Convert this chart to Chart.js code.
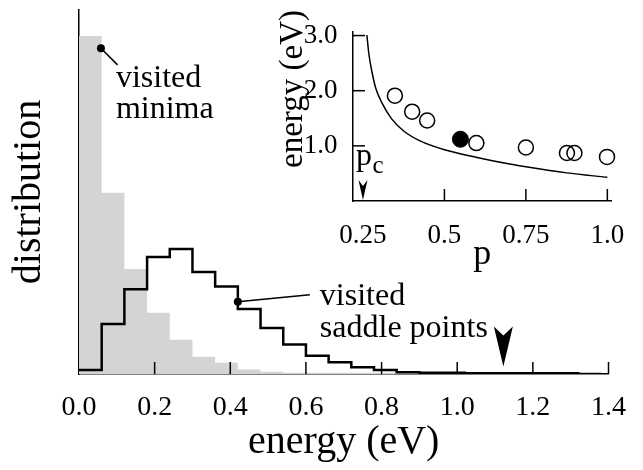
<!DOCTYPE html>
<html>
<head>
<meta charset="utf-8">
<script src="https://cdn.jsdelivr.net/npm/chart.js@4.4.0/dist/chart.umd.min.js"></script>
<style>
  html, body { margin: 0; padding: 0; background: #fff; }
  #wrap { position: relative; width: 643px; height: 470px; }
  #main { position: absolute; left: 0; top: 0; }
  #inset { position: absolute; left: 250px; top: 0; }
</style>
</head>
<body>
<div id="wrap">
  <canvas id="main" width="643" height="470"></canvas>
  <canvas id="inset" width="393" height="280"></canvas>
</div>
<script>
// histogram bins (left edges, eV), width 0.06
const binStart = [0.00, 0.06, 0.12, 0.18, 0.24, 0.30, 0.36, 0.42, 0.48, 0.54, 0.60, 0.66,
                  0.72, 0.78, 0.84, 0.90, 0.96, 1.02, 1.08, 1.14, 1.20, 1.26, 1.32];
const binWidth = 0.06;
const minimaHist = [100, 53.6, 31.1, 18.1, 10.1, 5.1, 3.3, 1.3, 0.7, 0.4, 0.4, 0.4,
                    0.4, 0.4, 0.3, 0.3, 0.3, 0.3, 0.3, 0.3, 0.3, 0.3, 0.3];
const saddleHist = [1.2, 14.8, 25.1, 34.6, 37.0, 30.2, 25.9, 19.2, 13.6, 8.7, 5.4, 3.5,
                    2.0, 1.2, 0.5, 0.35, 0.35, 0.25, 0.25, 0.2, 0.2, 0.2, 0];
const energyTicks = [0.2, 0.4, 0.6, 0.8, 1.0, 1.2, 1.4];

// inset: barrier energy vs p
const pOpen = [0.348, 0.401, 0.447, 0.598, 0.750, 0.876, 0.899, 0.999];
const eOpen = [1.91, 1.62, 1.46, 1.05, 0.97, 0.87, 0.87, 0.80];
const pFilled = [0.549];
const eFilled = [1.12];
const curveP = [0.262, 0.268, 0.278, 0.289, 0.309, 0.338, 0.377, 0.425, 0.50, 0.60, 0.70, 0.75, 0.875, 1.0];
const curveE = [3.01, 2.67, 2.33, 2.05, 1.77, 1.49, 1.26, 1.09, 0.93, 0.79, 0.67, 0.62, 0.51, 0.43];
const insetXTicks = [0.25, 0.5, 0.75, 1.0];
const insetYTicks = [1, 2, 3];
const pc = 0.25;

const SERIF = '"Liberation Serif", "Times New Roman", serif';
Chart.defaults.font.family = SERIF;
Chart.defaults.color = '#000';

function histPoints(values) {
  const pts = binStart.map((x, i) => ({ x: x, y: values[i] }));
  pts.push({ x: binStart[binStart.length - 1] + binWidth, y: 0 });
  return pts;
}

function drawArrow(ctx, x, tipY, halfW, len, notch) {
  ctx.beginPath();
  ctx.moveTo(x, tipY);
  ctx.lineTo(x - halfW, tipY - len);
  ctx.lineTo(x, tipY - notch);
  ctx.lineTo(x + halfW, tipY - len);
  ctx.closePath();
  ctx.fill();
}

// ticks pointing inward, labels and pointers
const mainDecor = {
  id: 'mainDecor',
  afterDraw(chart) {
    const { ctx, chartArea } = chart;
    const x = chart.scales.x, y = chart.scales.y;
    ctx.save();
    ctx.strokeStyle = '#000';
    ctx.fillStyle = '#000';
    ctx.lineWidth = 1.5;
    energyTicks.forEach(v => {
      const px = x.getPixelForValue(v);
      ctx.beginPath();
      ctx.moveTo(px, chartArea.bottom);
      ctx.lineTo(px, chartArea.bottom - 12);
      ctx.stroke();
    });

    ctx.font = '32px ' + SERIF;
    ctx.textAlign = 'left';
    ctx.textBaseline = 'alphabetic';

    // visited minima
    const mx = x.getPixelForValue(0.058), my = y.getPixelForValue(96.4);
    ctx.beginPath(); ctx.arc(mx, my, 4, 0, Math.PI * 2); ctx.fill();
    ctx.beginPath(); ctx.moveTo(mx, my); ctx.lineTo(mx + 16.6, my + 16.7); ctx.stroke();
    ctx.fillText('visited', mx + 15, my + 38.4);
    ctx.fillText('minima', mx + 15, my + 70);

    // visited saddle points
    const sx = x.getPixelForValue(0.42), sy = y.getPixelForValue(21.4);
    ctx.beginPath(); ctx.arc(sx, sy, 4, 0, Math.PI * 2); ctx.fill();
    ctx.beginPath(); ctx.moveTo(sx, sy); ctx.lineTo(sx + 72, sy - 7); ctx.stroke();
    ctx.fillText('visited', sx + 82, sy + 3.5);
    ctx.fillText('saddle points', sx + 82, sy + 35.6);

    // arrow marker
    drawArrow(ctx, x.getPixelForValue(1.122), chartArea.bottom - 7.5, 9.5, 40, 31);
    ctx.restore();
  }
};

new Chart(document.getElementById('main'), {
  type: 'line',
  data: {
    datasets: [
      {
        data: histPoints(saddleHist),
        stepped: true,
        borderColor: '#000',
        borderWidth: 2.5,
        pointRadius: 0,
        fill: false
      },
      {
        data: histPoints(minimaHist),
        stepped: true,
        borderColor: 'rgba(0,0,0,0)',
        borderWidth: 0,
        backgroundColor: '#d4d4d4',
        pointRadius: 0,
        fill: 'origin'
      }
    ]
  },
  options: {
    responsive: false,
    animation: false,
    devicePixelRatio: 1,
    events: [],
    layout: { padding: { top: 10, right: 18, left: 0, bottom: 0 } },
    plugins: { legend: { display: false }, tooltip: { enabled: false } },
    scales: {
      x: {
        type: 'linear',
        min: 0,
        max: 1.4,
        grid: { display: false, drawTicks: false },
        border: { color: '#000', width: 1.5 },
        ticks: {
          stepSize: 0.2,
          autoSkip: false,
          maxRotation: 0,
          padding: 17,
          font: { size: 28 },
          callback: v => v.toFixed(1)
        },
        title: { display: true, text: 'energy (eV)', font: { size: 40 }, padding: { top: 0, bottom: 4 } },
        afterFit: s => { s.height = 96; }
      },
      y: {
        min: 0,
        max: 107.7,
        grid: { display: false, drawTicks: false },
        border: { color: '#000', width: 1.5 },
        ticks: { display: false },
        title: { display: true, text: 'distribution', font: { size: 40 }, padding: { top: 5.5, bottom: 0 } },
        afterFit: s => { s.width = 79; }
      }
    }
  },
  plugins: [mainDecor]
});

const insetDecor = {
  id: 'insetDecor',
  afterDraw(chart) {
    const { ctx, chartArea } = chart;
    const x = chart.scales.x, y = chart.scales.y;
    ctx.save();
    ctx.strokeStyle = '#000';
    ctx.fillStyle = '#000';
    ctx.lineWidth = 1.5;
    insetXTicks.slice(1).forEach(v => {
      const px = x.getPixelForValue(v);
      ctx.beginPath(); ctx.moveTo(px, chartArea.bottom); ctx.lineTo(px, chartArea.bottom - 12); ctx.stroke();
    });
    insetYTicks.forEach(v => {
      const py = y.getPixelForValue(v);
      ctx.beginPath(); ctx.moveTo(chartArea.left, py); ctx.lineTo(chartArea.left + 12, py); ctx.stroke();
    });

    // p_c arrow and label
    const cx = x.getPixelForValue(pc);
    drawArrow(ctx, cx, chartArea.bottom - 1, 4.5, 20, 14);
    ctx.textAlign = 'left';
    ctx.textBaseline = 'alphabetic';
    ctx.font = '32px ' + SERIF;
    ctx.fillText('p', cx - 7, 164.5);
    ctx.font = '25px ' + SERIF;
    ctx.fillText('c', cx + 9.5, 173);

    // y title, left of the tick labels
    ctx.font = '33px ' + SERIF;
    ctx.textAlign = 'center';
    ctx.translate(chartArea.left - 51, 89);
    ctx.rotate(-Math.PI / 2);
    ctx.fillText('energy (eV)', 0, 0);
    ctx.restore();
  }
};

new Chart(document.getElementById('inset'), {
  type: 'scatter',
  data: {
    datasets: [
      {
        type: 'line',
        data: curveP.map((p, i) => ({ x: p, y: curveE[i] })),
        borderColor: '#000',
        borderWidth: 1.5,
        pointRadius: 0,
        cubicInterpolationMode: 'monotone',
        fill: false
      },
      {
        data: pOpen.map((p, i) => ({ x: p, y: eOpen[i] })),
        pointRadius: 7.5,
        borderWidth: 1.5,
        borderColor: '#000',
        backgroundColor: 'rgba(0,0,0,0)',
        clip: false
      },
      {
        data: pFilled.map((p, i) => ({ x: p, y: eFilled[i] })),
        pointRadius: 8,
        borderWidth: 1,
        borderColor: '#000',
        backgroundColor: '#000',
        clip: false
      }
    ]
  },
  options: {
    responsive: false,
    animation: false,
    devicePixelRatio: 1,
    events: [],
    layout: { padding: { top: 19, right: 18, left: 0, bottom: 0 } },
    plugins: { legend: { display: false }, tooltip: { enabled: false } },
    scales: {
      x: {
        type: 'linear',
        min: 0.2194,
        max: 1.0125,
        grid: { display: false, drawTicks: false },
        border: { color: '#000', width: 1.5 },
        afterBuildTicks: s => { s.ticks = insetXTicks.map(v => ({ value: v })); },
        ticks: {
          autoSkip: false,
          maxRotation: 0,
          padding: 18.5,
          font: { size: 27 },
          callback: v => (v === 1 ? '1.0' : String(v))
        },
        title: { display: true, text: 'p', font: { size: 36 }, padding: { top: 0, bottom: 4 } },
        afterFit: s => { s.height = 79; }
      },
      y: {
        min: 0,
        max: 3.07,
        grid: { display: false, drawTicks: false },
        border: { color: '#000', width: 1.5 },
        afterBuildTicks: s => { s.ticks = insetYTicks.map(v => ({ value: v })); },
        ticks: {
          padding: 15.5,
          font: { size: 27 },
          callback: v => v.toFixed(1)
        },
        afterFit: s => { s.width = 103; }
      }
    }
  },
  plugins: [insetDecor]
});
</script>
</body>
</html>
